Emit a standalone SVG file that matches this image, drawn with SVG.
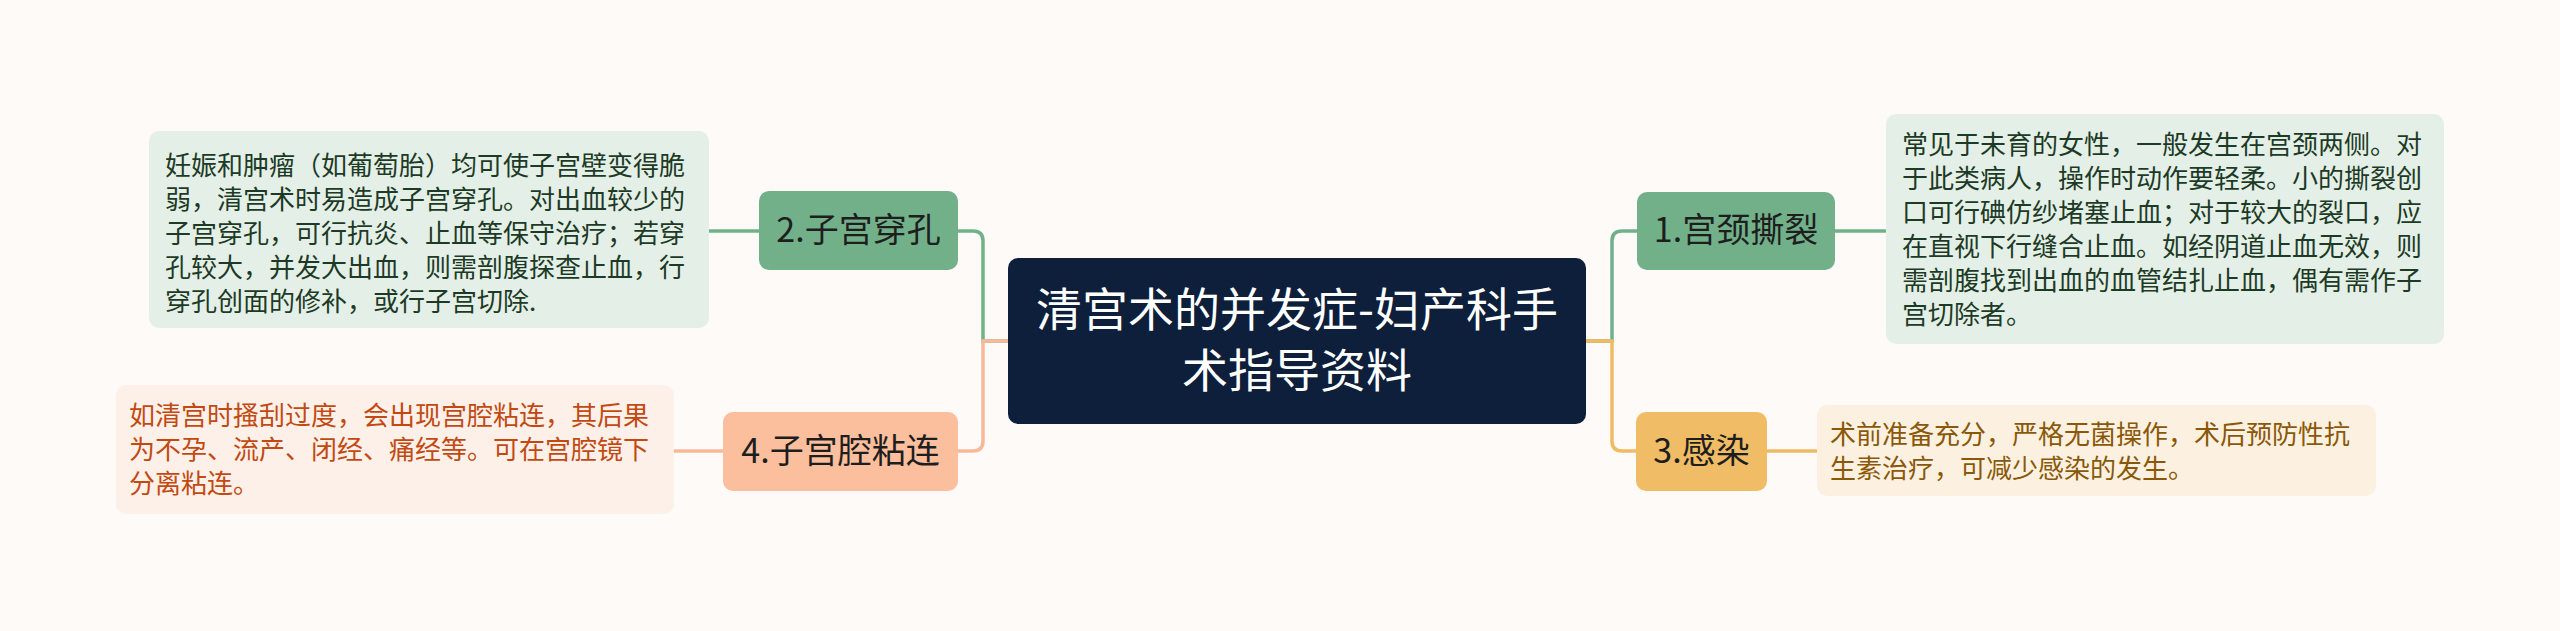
<svg xmlns="http://www.w3.org/2000/svg" width="2560" height="631" viewBox="0 0 2560 631">
<style>
text{font-family:"Noto Sans CJK SC","Noto Sans",sans-serif;}
.node text{font-size:34px;fill:#1e1e1e;text-anchor:middle;}
.leaf text{font-size:26px;}
.lg text{fill:#1d3a26;}
.lo text{fill:#c24a12;}
.ly text{fill:#8a5808;}
.conn path{fill:none;stroke-width:3.5;}
.g{stroke:#72b08a;}
.o{stroke:#f7ba98;}
.y{stroke:#efbb63;}
</style>
<rect width="2560" height="631" fill="#fdfaf8"/>
<g id="connectors" class="conn">
<path class="g" d="M1008,341 H983 V241 Q983,231 973,231 H958"/>
<path class="o" d="M1008,341 H983 V441 Q983,451 973,451 H958"/>
<path class="g" d="M1586,341 H1612 V241 Q1612,231 1622,231 H1637"/>
<path class="y" d="M1586,341 H1612 V441 Q1612,451 1622,451 H1636"/>
<path class="g" d="M759,231 H709"/>
<path class="o" d="M723,451 H674"/>
<path class="g" d="M1835,231 H1886"/>
<path class="y" d="M1767,451 H1817"/>
</g>
<g id="center">
<rect x="1008" y="258" width="578" height="166" rx="10" fill="#0d1f3a"/>
<text x="1297" y="326" font-size="46" fill="#ffffff" text-anchor="middle">清宫术的并发症-妇产科手</text>
<text x="1297" y="387" font-size="46" fill="#ffffff" text-anchor="middle">术指导资料</text>
</g>
<g id="n2" class="node">
<rect x="759" y="191" width="199" height="79" rx="10" fill="#72b08a"/>
<text x="858.5" y="242">2.子宫穿孔</text>
</g>
<g id="n4" class="node">
<rect x="723" y="412" width="235" height="79" rx="10" fill="#fcbf9d"/>
<text x="840.5" y="463">4.子宫腔粘连</text>
</g>
<g id="n1" class="node">
<rect x="1637" y="192" width="198" height="78" rx="10" fill="#72b08a"/>
<text x="1736" y="242">1.宫颈撕裂</text>
</g>
<g id="n3" class="node">
<rect x="1636" y="412" width="131" height="79" rx="10" fill="#f0bc65"/>
<text x="1701.5" y="463">3.感染</text>
</g>
<g id="leaf2" class="leaf lg">
<rect x="149" y="131" width="560" height="197" rx="10" fill="#e4f0e7"/>
<text x="165" y="175">妊娠和肿瘤（如葡萄胎）均可使子宫壁变得脆</text>
<text x="165" y="209">弱，清宫术时易造成子宫穿孔。对出血较少的</text>
<text x="165" y="243">子宫穿孔，可行抗炎、止血等保守治疗；若穿</text>
<text x="165" y="277">孔较大，并发大出血，则需剖腹探查止血，行</text>
<text x="165" y="311">穿孔创面的修补，或行子宫切除.</text>
</g>
<g id="leaf4" class="leaf lo">
<rect x="116" y="385" width="558" height="129" rx="10" fill="#fdf0e8"/>
<text x="129" y="425">如清宫时搔刮过度，会出现宫腔粘连，其后果</text>
<text x="129" y="459">为不孕、流产、闭经、痛经等。可在宫腔镜下</text>
<text x="129" y="493">分离粘连。</text>
</g>
<g id="leaf1" class="leaf lg">
<rect x="1886" y="114" width="558" height="230" rx="10" fill="#e4f0e7"/>
<text x="1902" y="154">常见于未育的女性，一般发生在宫颈两侧。对</text>
<text x="1902" y="188">于此类病人，操作时动作要轻柔。小的撕裂创</text>
<text x="1902" y="222">口可行碘仿纱堵塞止血；对于较大的裂口，应</text>
<text x="1902" y="256">在直视下行缝合止血。如经阴道止血无效，则</text>
<text x="1902" y="290">需剖腹找到出血的血管结扎止血，偶有需作子</text>
<text x="1902" y="324">宫切除者。</text>
</g>
<g id="leaf3" class="leaf ly">
<rect x="1817" y="405" width="559" height="91" rx="10" fill="#fcf1e0"/>
<text x="1830" y="444">术前准备充分，严格无菌操作，术后预防性抗</text>
<text x="1830" y="478">生素治疗，可减少感染的发生。</text>
</g>
</svg>
